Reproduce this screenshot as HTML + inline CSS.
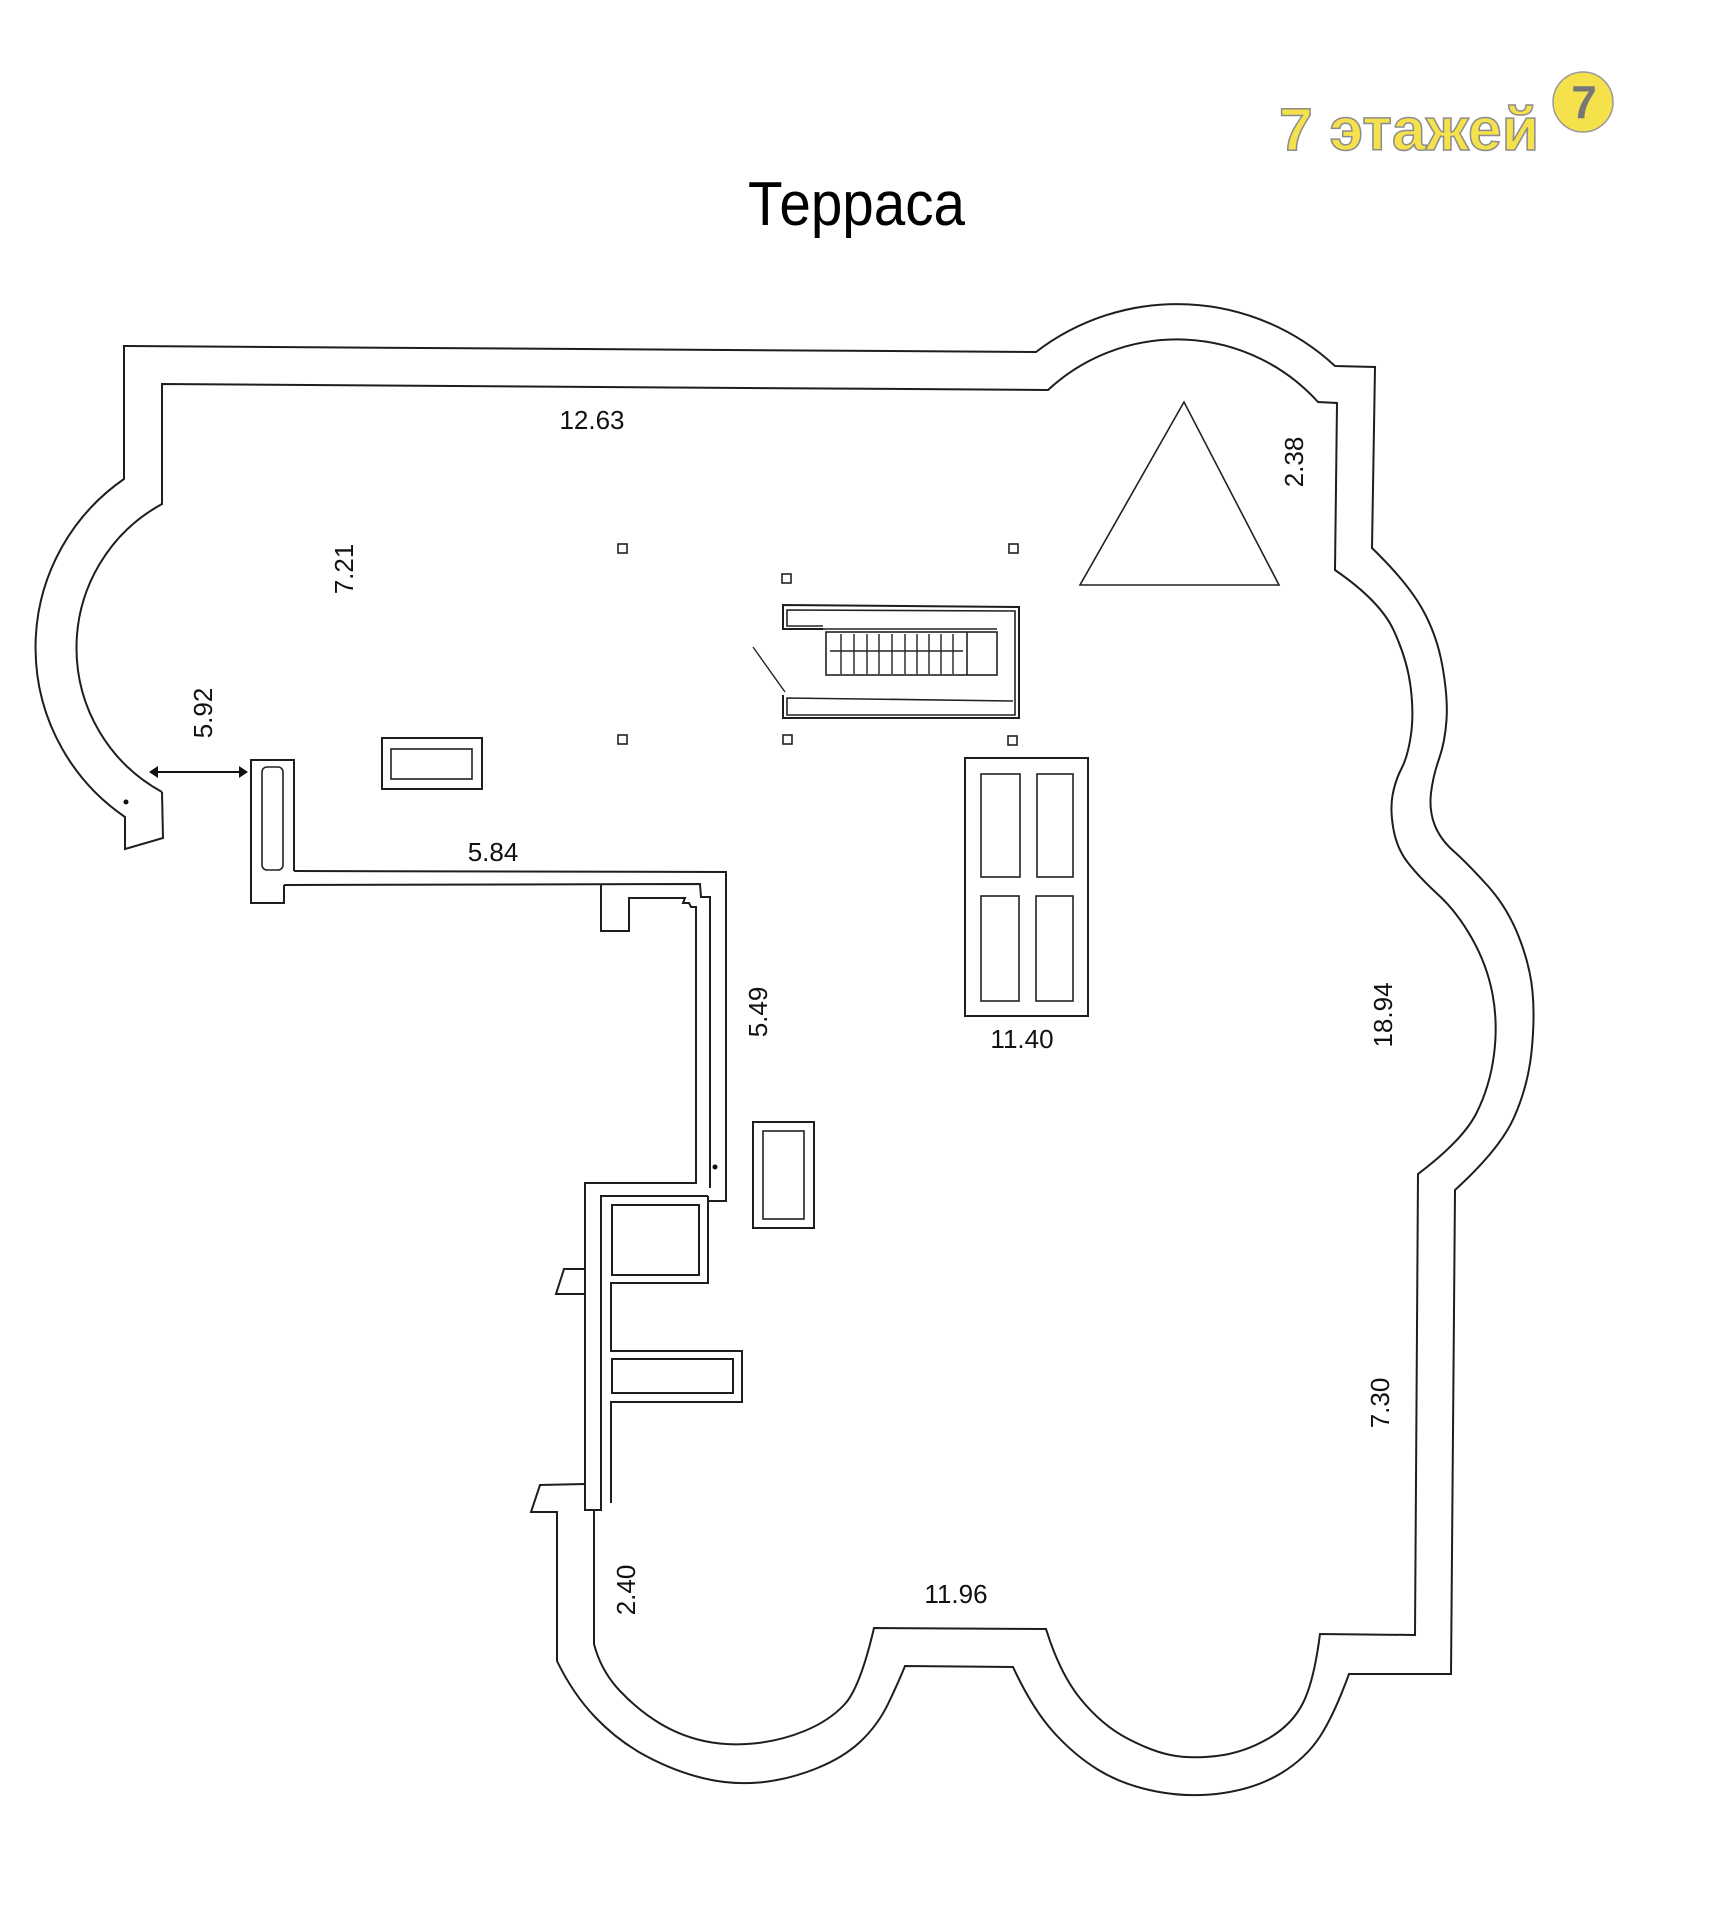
<!DOCTYPE html>
<html>
<head>
<meta charset="utf-8">
<style>
html,body{margin:0;padding:0;background:#ffffff;}
svg{display:block;}
.w{fill:none;stroke:#1e1e1e;stroke-width:2;stroke-linejoin:miter;}
.t{fill:none;stroke:#222;stroke-width:1.6;}
.lbl{font-family:"Liberation Sans",sans-serif;font-size:26px;fill:#111;}
</style>
</head>
<body>
<svg width="1715" height="1920" viewBox="0 0 1715 1920" xmlns="http://www.w3.org/2000/svg">
<rect x="0" y="0" width="1715" height="1920" fill="#ffffff"/>

<!-- Logo -->
<text x="1279" y="150" font-family="Liberation Sans, sans-serif" font-weight="bold" font-size="60" fill="#f5e14c" stroke="#8c8c8c" stroke-width="1.5" textLength="260" lengthAdjust="spacingAndGlyphs">7 этажей</text>
<circle cx="1583" cy="102" r="30" fill="#f5e14c" stroke="#9a9a9a" stroke-width="1.5"/>
<text x="1584" y="118" text-anchor="middle" font-family="Liberation Sans, sans-serif" font-weight="bold" font-size="46" fill="#777777">7</text>

<!-- Title -->
<text x="748" y="225" font-family="Liberation Sans, sans-serif" font-size="62" fill="#000" textLength="217" lengthAdjust="spacingAndGlyphs">Терраса</text>

<!-- Outer wall line -->
<path class="w" d="M 162,792 L 163,838 L 125,849 L 125,817 A 205 205 0 0 1 124,479 L 124,346 L 1036,352 A 232 232 0 0 1 1335,366 L 1375,367 L 1372,548
Q 1407,582 1422,608.5 Q 1437,635 1442.5,666.5 Q 1448,698 1446.5,720 Q 1445,742 1439,759 Q 1433,776 1431,793 Q 1429,810 1434.5,824.5 Q 1440,839 1453.5,851 Q 1467,863 1487,885 Q 1507,907 1518.5,936 Q 1530,965 1532.5,991.5 Q 1535,1018 1531.5,1052 Q 1528,1086 1514,1117.5 Q 1500,1149 1455,1190
L 1451,1674 L 1349,1674
Q 1334,1715 1320,1736.5 Q 1306,1758 1281.5,1773 Q 1257,1788 1223.5,1793 Q 1190,1798 1156.5,1791.5 Q 1123,1785 1098.5,1770 Q 1074,1755 1053,1731.5 Q 1032,1708 1013,1667
L 905,1666
Q 899,1681 888.5,1703 Q 878,1725 860.5,1741.5 Q 843,1758 815,1769 Q 787,1780 759,1782.5 Q 731,1785 702.5,1778 Q 674,1771 646,1756 Q 618,1741 595.5,1717.5 Q 573,1694 557,1661
L 557,1512 L 531,1512 L 540,1485 L 585,1484"/>

<!-- Inner wall line -->
<path class="w" d="M 162,792 A 164 164 0 0 1 162,504 L 162,384 L 1048,390 A 190 190 0 0 1 1318,402 L 1337,403 L 1335,570
Q 1380,601 1393.5,630 Q 1407,659 1410.5,686 Q 1414,713 1411,734.5 Q 1408,756 1401.5,768.5 Q 1395,781 1392.5,795.5 Q 1390,810 1393.5,829.5 Q 1397,849 1408.5,863.5 Q 1420,878 1438.5,895 Q 1457,912 1472,938.5 Q 1487,965 1492.5,994 Q 1498,1023 1494,1054.5 Q 1490,1086 1476.5,1113 Q 1463,1140 1418,1174
L 1415,1635 L 1320,1634
Q 1314,1681 1303,1703 Q 1292,1725 1267.5,1739 Q 1243,1753 1216.5,1756 Q 1190,1759 1170.5,1755 Q 1151,1751 1126.5,1738 Q 1102,1725 1081,1699.5 Q 1060,1674 1046,1629
L 874,1628
Q 860,1688 844.5,1704.5 Q 829,1721 804.5,1731 Q 780,1741 753.5,1743.5 Q 727,1746 704,1741 Q 681,1736 660,1723.5 Q 639,1711 620,1691 Q 601,1671 594,1644
L 594,1510"/>

<!-- Left-bay end dot -->
<circle cx="126" cy="802" r="2.5" fill="#111"/>

<!-- Dimension arrow 5.92 -->
<line x1="156" y1="772" x2="241" y2="772" stroke="#111" stroke-width="2"/>
<polygon points="149,772 158,766 158,778" fill="#111"/>
<polygon points="248,772 239,766 239,778" fill="#111"/>

<!-- Rectangle with pill at start of partition -->
<path class="w" d="M 284,885 L 284,903 L 251,903 L 251,760 L 294,760 L 294,871"/>
<rect x="262" y="767" width="21" height="103" rx="5" ry="5" class="t"/>

<!-- Partition walls -->
<path class="w" d="M 294,871 L 726,872 L 726,1201 L 708,1201 M 708,1196 L 708,1283 L 611,1283 L 611,1351 L 742,1351 L 742,1402 L 611,1402 L 611,1503"/>
<path class="w" d="M 284,885 L 700,884 L 701,897 L 710,897 L 710,1188"/>
<path class="w" d="M 601,884 L 601,931 L 629,931 L 629,898 L 685,898 L 683,903 L 689,903 L 691,907 L 696,907 L 696,1183 L 585,1183 L 585,1510 L 601,1510 L 601,1196 L 708,1196"/>
<path class="w" d="M 585,1269 L 564,1269 L 556,1294 L 585,1294"/>
<rect x="612" y="1205" width="87" height="70" class="w"/>
<rect x="612" y="1359" width="121" height="34" class="w"/>
<circle cx="715" cy="1167" r="2.5" fill="#111"/>

<!-- Small rectangles -->
<rect x="382" y="738" width="100" height="51" class="w"/>
<rect x="391" y="749" width="81" height="30" class="t"/>
<rect x="753" y="1122" width="61" height="106" class="w"/>
<rect x="763" y="1131" width="41" height="88" class="t"/>

<!-- Columns -->
<rect x="618" y="544" width="9" height="9" class="t"/>
<rect x="782" y="574" width="9" height="9" class="t"/>
<rect x="1009" y="544" width="9" height="9" class="t"/>
<rect x="618" y="735" width="9" height="9" class="t"/>
<rect x="783" y="735" width="9" height="9" class="t"/>
<rect x="1008" y="736" width="9" height="9" class="t"/>

<!-- Triangle -->
<polygon points="1184,402 1080,585 1279,585" class="t"/>

<!-- Stairs -->
<path class="w" d="M 823,629 L 783,629 L 783,605 L 1019,607 L 1019,718 L 783,718 L 783,695"/>
<path class="t" d="M 823,626 L 787,626 L 787,610 L 1015,611 L 1015,715 L 787,715 L 787,698 L 1013,701"/>
<line x1="823" y1="629" x2="997" y2="629" stroke="#222" stroke-width="1.6"/>
<rect x="826" y="632" width="171" height="43" class="t"/>
<line x1="967" y1="632" x2="967" y2="675" stroke="#222" stroke-width="1.6"/>
<g stroke="#222" stroke-width="1.4">
<line x1="841" y1="634" x2="841" y2="674"/>
<line x1="854" y1="634" x2="854" y2="674"/>
<line x1="867" y1="634" x2="867" y2="674"/>
<line x1="879" y1="634" x2="879" y2="674"/>
<line x1="892" y1="634" x2="892" y2="674"/>
<line x1="905" y1="634" x2="905" y2="674"/>
<line x1="917" y1="634" x2="917" y2="674"/>
<line x1="929" y1="634" x2="929" y2="674"/>
<line x1="941" y1="634" x2="941" y2="674"/>
<line x1="953" y1="634" x2="953" y2="674"/>
<line x1="830" y1="651" x2="963" y2="651"/>
<line x1="753" y1="647" x2="785" y2="692"/>
</g>

<!-- Wardrobe -->
<rect x="965" y="758" width="123" height="258" class="w"/>
<rect x="981" y="774" width="39" height="103" class="t"/>
<rect x="1037" y="774" width="36" height="103" class="t"/>
<rect x="981" y="896" width="38" height="105" class="t"/>
<rect x="1036" y="896" width="37" height="105" class="t"/>

<!-- Labels -->
<text class="lbl" x="592" y="429" text-anchor="middle">12.63</text>
<text class="lbl" x="493" y="861" text-anchor="middle">5.84</text>
<text class="lbl" x="1022" y="1048" text-anchor="middle">11.40</text>
<text class="lbl" x="956" y="1603" text-anchor="middle">11.96</text>
<text class="lbl" transform="translate(344,569) rotate(-90)" x="0" y="9" text-anchor="middle">7.21</text>
<text class="lbl" transform="translate(203,713) rotate(-90)" x="0" y="9" text-anchor="middle">5.92</text>
<text class="lbl" transform="translate(1294,462) rotate(-90)" x="0" y="9" text-anchor="middle">2.38</text>
<text class="lbl" transform="translate(758,1012) rotate(-90)" x="0" y="9" text-anchor="middle">5.49</text>
<text class="lbl" transform="translate(1383,1015) rotate(-90)" x="0" y="9" text-anchor="middle">18.94</text>
<text class="lbl" transform="translate(1380,1403) rotate(-90)" x="0" y="9" text-anchor="middle">7.30</text>
<text class="lbl" transform="translate(626,1590) rotate(-90)" x="0" y="9" text-anchor="middle">2.40</text>
</svg>
</body>
</html>
